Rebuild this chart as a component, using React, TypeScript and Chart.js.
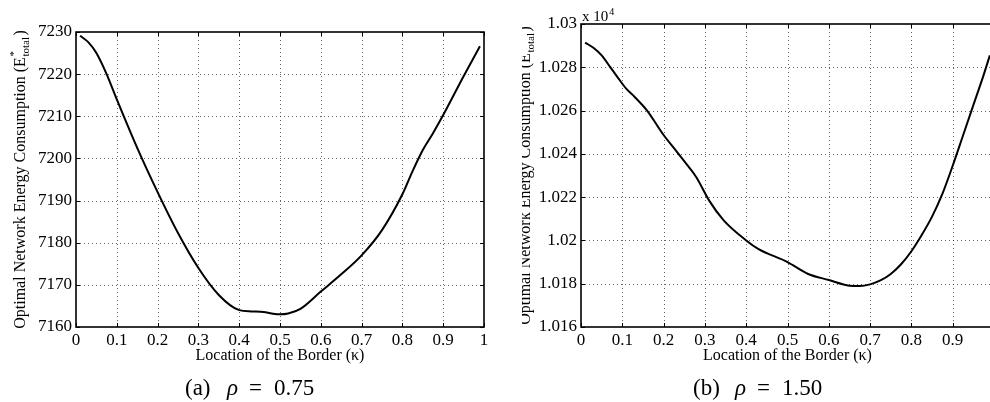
import React, { useEffect, useRef } from "react";
import { Chart, registerables } from "chart.js";

Chart.register(...registerables);

// ---------- data ----------
const kappaA = [0.01, 0.03, 0.05, 0.075, 0.1, 0.15, 0.2, 0.25, 0.3, 0.35, 0.4, 0.43, 0.46, 0.48, 0.5, 0.52, 0.55, 0.6, 0.65, 0.7, 0.75, 0.8, 0.825, 0.85, 0.875, 0.9, 0.95, 0.99];
const energyA = [7229.1, 7227.6, 7225, 7220, 7214, 7202.5, 7192, 7182.3, 7174, 7167.6, 7164, 7163.7, 7163.55, 7163.2, 7163, 7163.2, 7164.3, 7168.4, 7172.5, 7177, 7183, 7191.5, 7197, 7202, 7206, 7210.3, 7219.5, 7226.6];

const kappaB = [0.01, 0.03, 0.05, 0.07, 0.09, 0.11, 0.13, 0.16, 0.2, 0.23, 0.26, 0.28, 0.31, 0.345, 0.4, 0.43, 0.5, 0.55, 0.6, 0.65, 0.675, 0.7, 0.725, 0.75, 0.775, 0.8, 0.825, 0.85, 0.875, 0.9, 0.925, 0.95, 0.975, 0.99];
const energyB = [10291.4, 10289, 10285.5, 10280.3, 10275, 10270, 10266.3, 10260, 10248.7, 10241.5, 10234.2, 10229, 10218.5, 10209.4, 10200, 10196, 10190, 10184.5, 10181.7, 10179.1, 10178.9, 10179.7, 10181.5, 10184.5, 10189, 10195, 10202.5, 10211, 10221.5, 10234.5, 10248.5, 10262.5, 10276.5, 10285.5];

const xTickValues = [0, 0.1, 0.2, 0.3, 0.4, 0.5, 0.6, 0.7, 0.8, 0.9, 1];
const xTickLabels = ["0", "0.1", "0.2", "0.3", "0.4", "0.5", "0.6", "0.7", "0.8", "0.9", "1"];

const yTickValuesA = [7160, 7170, 7180, 7190, 7200, 7210, 7220, 7230];
const yTickLabelsA = ["7160", "7170", "7180", "7190", "7200", "7210", "7220", "7230"];

const yTickValuesB = [10160, 10180, 10200, 10220, 10240, 10260, 10280, 10300];
const yTickLabelsB = ["1.016", "1.018", "1.02", "1.022", "1.024", "1.026", "1.028", "1.03"];

const xTitle = "Location of the Border (\u03ba)";
const yTitleMain = "Optimal Network Energy Consumption (E";
const yTitleSup = "*";
const yTitleSub = "total";
const yTitleEnd = ")";
const captionA = ["(a)", "\u03c1", "=", "0.75"];
const captionB = ["(b)", "\u03c1", "=", "1.50"];
const expLabel = ["x 10", "4"];

const SERIF = "'Liberation Serif', 'Times New Roman', serif";

type Opts = {
  titleX: number;
  captionX: number;
  caption: string[];
  showExp: boolean;
};

function makePlugin(o: Opts) {
  return {
    id: "matlabFrame",
    beforeDatasetsDraw(chart: any) {
      const { ctx, chartArea: a, scales } = chart;
      ctx.save();
      ctx.strokeStyle = "rgba(0,0,0,0.6)";
      ctx.lineWidth = 1;
      ctx.setLineDash([1, 3]);
      scales.x.ticks.forEach((t: any) => {
        const px = Math.round(scales.x.getPixelForValue(t.value)) + 0.5;
        if (px <= a.left + 1 || px >= a.right - 1) return;
        ctx.beginPath();
        ctx.moveTo(px, a.top);
        ctx.lineTo(px, a.bottom);
        ctx.stroke();
      });
      scales.y.ticks.forEach((t: any) => {
        const py = Math.round(scales.y.getPixelForValue(t.value)) + 0.5;
        if (py <= a.top + 1 || py >= a.bottom - 1) return;
        ctx.beginPath();
        ctx.moveTo(a.left, py);
        ctx.lineTo(a.right, py);
        ctx.stroke();
      });
      ctx.restore();
    },
    afterDraw(chart: any) {
      const { ctx, chartArea: a, scales } = chart;
      ctx.save();
      // box
      ctx.strokeStyle = "#000";
      ctx.lineWidth = 1.6;
      ctx.setLineDash([]);
      ctx.strokeRect(a.left, a.top, a.right - a.left, a.bottom - a.top);
      // inward ticks
      ctx.lineWidth = 1;
      const tl = 4;
      scales.x.ticks.forEach((t: any) => {
        const px = Math.round(scales.x.getPixelForValue(t.value)) + 0.5;
        ctx.beginPath();
        ctx.moveTo(px, a.bottom);
        ctx.lineTo(px, a.bottom - tl);
        ctx.moveTo(px, a.top);
        ctx.lineTo(px, a.top + tl);
        ctx.stroke();
      });
      scales.y.ticks.forEach((t: any) => {
        const py = Math.round(scales.y.getPixelForValue(t.value)) + 0.5;
        ctx.beginPath();
        ctx.moveTo(a.left, py);
        ctx.lineTo(a.left + tl, py);
        ctx.moveTo(a.right, py);
        ctx.lineTo(a.right - tl, py);
        ctx.stroke();
      });

      ctx.fillStyle = "#000";
      // x title
      ctx.font = `16px ${SERIF}`;
      ctx.textAlign = "center";
      ctx.textBaseline = "alphabetic";
      ctx.fillText(xTitle, (a.left + a.right) / 2, 360);

      // y title (rotated, with super/subscript)
      ctx.save();
      ctx.translate(o.titleX, (a.top + a.bottom) / 2);
      ctx.rotate(-Math.PI / 2);
      ctx.textAlign = "left";
      ctx.font = `16px ${SERIF}`;
      const wMain = ctx.measureText(yTitleMain).width;
      const wEnd = ctx.measureText(yTitleEnd).width;
      ctx.font = `11px ${SERIF}`;
      const wSub = ctx.measureText(yTitleSub).width;
      const wSup = ctx.measureText(yTitleSup).width;
      const wS = Math.max(wSub, wSup) + 2;
      const total = wMain + wS + wEnd;
      const x0 = -total / 2;
      ctx.font = `16px ${SERIF}`;
      ctx.fillText(yTitleMain, x0, 0);
      ctx.font = `11px ${SERIF}`;
      ctx.fillText(yTitleSup, x0 + wMain + 0.5, -8);
      ctx.fillText(yTitleSub, x0 + wMain + 0.5, 4);
      ctx.font = `16px ${SERIF}`;
      ctx.fillText(yTitleEnd, x0 + wMain + wS, 0);
      ctx.restore();

      // exponent label
      if (o.showExp) {
        ctx.textAlign = "left";
        ctx.font = `15px ${SERIF}`;
        ctx.fillText(expLabel[0], a.left + 1, 21);
        const w = ctx.measureText(expLabel[0]).width;
        ctx.font = `10px ${SERIF}`;
        ctx.fillText(expLabel[1], a.left + 1 + w + 1, 15);
      }

      // caption
      ctx.textAlign = "left";
      const cy = 395;
      const cx = o.captionX;
      ctx.font = `23px ${SERIF}`;
      ctx.fillText(o.caption[0], cx, cy);
      ctx.font = `italic 23px ${SERIF}`;
      ctx.fillText(o.caption[1], cx + 42, cy);
      ctx.font = `23px ${SERIF}`;
      ctx.fillText(o.caption[2], cx + 64, cy);
      ctx.fillText(o.caption[3], cx + 89, cy);
      ctx.restore();
    },
  };
}

function makeConfig(
  xs: number[],
  ys: number[],
  yMin: number,
  yMax: number,
  yVals: number[],
  yLabels: string[],
  yAxisWidth: number,
  padTop: number,
  padRight: number,
  plugin: any
): any {
  return {
    type: "line",
    data: {
      datasets: [
        {
          data: xs.map((x, i) => ({ x, y: ys[i] })),
          borderColor: "#000",
          borderWidth: 2,
          pointRadius: 0,
          fill: false,
          cubicInterpolationMode: "monotone",
        },
      ],
    },
    options: {
      responsive: false,
      animation: false,
      devicePixelRatio: 1,
      layout: { padding: { left: 0, top: padTop, right: padRight, bottom: 0 } },
      plugins: { legend: { display: false }, tooltip: { enabled: false }, title: { display: false } },
      scales: {
        x: {
          type: "linear",
          min: 0,
          max: 1,
          grid: { display: false, drawTicks: false },
          border: { display: false },
          afterBuildTicks: (s: any) => {
            s.ticks = xTickValues.map((v) => ({ value: v }));
          },
          afterFit: (s: any) => {
            s.height = 75;
          },
          ticks: {
            padding: 3,
            maxRotation: 0,
            autoSkip: false,
            color: "#000",
            font: { family: SERIF, size: 17 },
            callback: (_v: any, i: number) => xTickLabels[i],
          },
        },
        y: {
          type: "linear",
          min: yMin,
          max: yMax,
          grid: { display: false, drawTicks: false },
          border: { display: false },
          afterBuildTicks: (s: any) => {
            s.ticks = yVals.map((v) => ({ value: v }));
          },
          afterFit: (s: any) => {
            s.width = yAxisWidth;
          },
          ticks: {
            padding: 4,
            autoSkip: false,
            color: "#000",
            font: { family: SERIF, size: 17 },
            callback: (_v: any, i: number) => yLabels[i],
          },
        },
      },
    },
    plugins: [plugin],
  };
}

export default function App() {
  const refA = useRef<HTMLCanvasElement | null>(null);
  const refB = useRef<HTMLCanvasElement | null>(null);

  useEffect(() => {
    const chartA = new Chart(
      refA.current as HTMLCanvasElement,
      makeConfig(
        kappaA,
        energyA,
        7160,
        7230,
        yTickValuesA,
        yTickLabelsA,
        76,
        32,
        517 - 484,
        makePlugin({ titleX: 25, captionX: 185, caption: captionA, showExp: false })
      )
    );
    const chartB = new Chart(
      refB.current as HTMLCanvasElement,
      makeConfig(
        kappaB,
        energyB,
        10160,
        10300,
        yTickValuesB,
        yTickLabelsB,
        59,
        24,
        500 - 472,
        makePlugin({ titleX: 8, captionX: 171, caption: captionB, showExp: true })
      )
    );
    return () => {
      chartA.destroy();
      chartB.destroy();
    };
  }, []);

  return (
    <div
      style={{
        position: "fixed",
        left: 0,
        top: 0,
        width: 990,
        height: 402,
        overflow: "hidden",
        background: "#fff",
      }}
    >
      <canvas
        ref={refA}
        width={517}
        height={402}
        style={{ position: "absolute", left: 0, top: 0, width: 517, height: 402 }}
      />
      <canvas
        ref={refB}
        width={500}
        height={402}
        style={{ position: "absolute", left: 522, top: 0, width: 500, height: 402 }}
      />
    </div>
  );
}
